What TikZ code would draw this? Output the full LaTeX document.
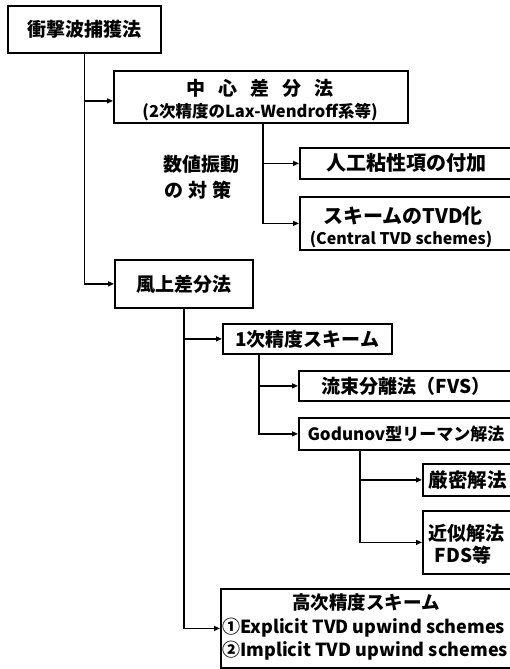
\documentclass[tikz,border=0pt]{standalone}
\usepackage{fontspec}
\setmainfont{Noto Sans CJK JP}
\usetikzlibrary{arrows.meta}
\newcommand{\fs}[1]{\fontsize{#1}{#1}\selectfont}
\begin{document}
\begin{tikzpicture}[x=1pt,y=-1pt,
  box/.style={draw, line width=1.8pt, inner sep=0pt, anchor=north west, align=center, font=\bfseries\fs{19}},
  lbl/.style={inner sep=0pt, font=\bfseries\fs{19}},
  conn/.style={line width=1.3pt},
  arr/.style={conn, -{Triangle[length=6pt,width=5pt]}}]
\useasboundingbox (0,0) rectangle (510,669);
\clip (0,0) rectangle (510,669);
% boxes
\node[box, minimum width=153pt, minimum height=47pt] (A) at (7,5) {衝撃波捕獲法};
\node[box, minimum width=294pt, minimum height=52pt] (B) at (113,70) {};
\node[lbl] (B1) at (260,88) {中\hspace{13pt}心\hspace{13pt}差\hspace{13pt}分\hspace{13pt}法};
\node[lbl, font=\bfseries\fs{16.5}] (B2) at (260,112) {(2次精度のLax-Wendroff系等)};
\node[box, minimum width=213pt, minimum height=31pt, font=\bfseries\fs{20}] (D) at (299,147) {人工粘性項の付加};
\node[box, minimum width=213pt, minimum height=53pt] (E) at (299,196) {};
\node[lbl, font=\bfseries\fs{20}] (E1) at (403,216) {スキームのTVD化};
\node[lbl, font=\bfseries\fs{16}] (E2) at (401,239) {(Central TVD schemes)};
\node[lbl] (L1) at (201,164) {数値振動};
\node[lbl] (L2) at (198,190) {の\hspace{5pt}対\hspace{5pt}策};
\node[box, minimum width=138pt, minimum height=48pt] (C) at (114,259) {風上差分法};
\node[box, minimum width=169pt, minimum height=30pt] (F) at (222,323) {1次精度スキーム};
\node[box, minimum width=214pt, minimum height=30pt] (H) at (298,370) {流束分離法（FVS）};
\node[box, minimum width=214pt, minimum height=32pt, font=\bfseries\fs{17}] (I) at (298,417) {Godunov型リーマン解法};
\node[box, minimum width=90pt, minimum height=32pt, font=\bfseries\fs{19.5}] (J) at (422,463) {厳密解法};
\node[box, minimum width=90pt, minimum height=63pt] (K) at (422,510) {};
\node[lbl] (K1) at (466,533) {近似解法};
\node[lbl] (K2) at (463,555) {FDS等};
\node[box, minimum width=292pt, minimum height=79pt] (G) at (220,588) {};
\node[lbl, font=\bfseries\fs{18.5}] (G1) at (366,602) {高次精度スキーム};
\node[lbl, font=\bfseries\fs{18}, anchor=west] (G2) at (222,628) {①Explicit TVD upwind schemes};
\node[lbl, font=\bfseries\fs{18}, anchor=west] (G3) at (222,651) {②Implicit TVD upwind schemes};
% connectors
\coordinate (b1) at ([yshift=-4pt]B.west);
\draw[arr] (A.south) |- (C.west);
\draw[arr] (A.south |- b1) -- (b1);
\coordinate (bs) at ([xshift=2pt]B.south);
\draw[arr] (bs) |- (D.west);
\draw[arr] (bs) |- (E.west);
\draw[arr] (C.south) |- (F.west);
\draw[arr] (C.south) |- (G.west);
\coordinate (fs) at ([xshift=37pt]F.south west);
\draw[arr] (fs) |- (H.west);
\draw[arr] (fs) |- (I.west);
\coordinate (is) at ([xshift=62pt]I.south west);
\draw[arr] (is) |- (J.west);
\draw[arr] (is) |- (K.west);
\end{tikzpicture}
\end{document}
